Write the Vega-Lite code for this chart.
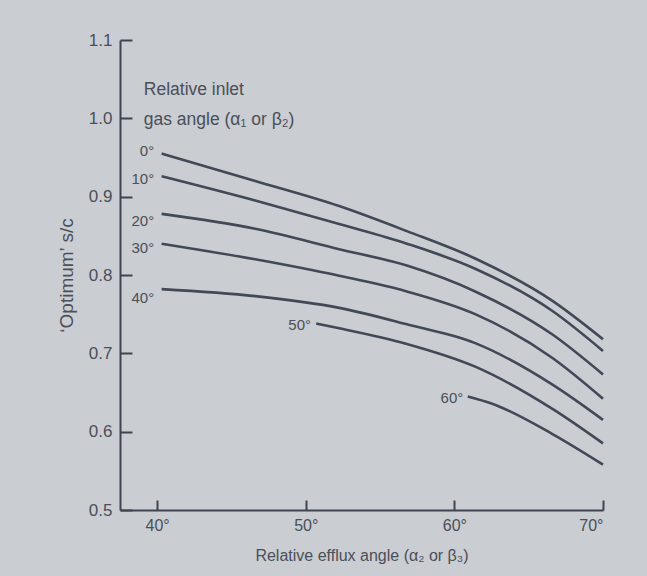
{
  "$schema": "https://vega.github.io/schema/vega-lite/v6.json",
  "width": 483,
  "height": 470,
  "autosize": {"type": "none"},
  "padding": {"left": 120, "top": 40, "right": 44, "bottom": 66},
  "background": "#cacdd2",
  "config": {
    "view": {"stroke": null},
    "font": "Liberation Sans",
    "axis": {"domainColor": "#3f4550", "tickColor": "#3f4550", "labelColor": "#4a4f58", "titleColor": "#4a4f58", "grid": false, "domainWidth": 2, "tickWidth": 2}
  },
  "datasets": {
    "curves": [
      {"inlet": "0", "efflux": 40.3, "sc": 0.955},
      {"inlet": "0", "efflux": 46.6, "sc": 0.92},
      {"inlet": "0", "efflux": 52.25, "sc": 0.888},
      {"inlet": "0", "efflux": 56.8, "sc": 0.856},
      {"inlet": "0", "efflux": 61.4, "sc": 0.821},
      {"inlet": "0", "efflux": 66.6, "sc": 0.767},
      {"inlet": "0", "efflux": 70.0, "sc": 0.718},
      {"inlet": "10", "efflux": 40.3, "sc": 0.926},
      {"inlet": "10", "efflux": 46.6, "sc": 0.895},
      {"inlet": "10", "efflux": 52.25, "sc": 0.865},
      {"inlet": "10", "efflux": 56.8, "sc": 0.84},
      {"inlet": "10", "efflux": 61.4, "sc": 0.808},
      {"inlet": "10", "efflux": 66.6, "sc": 0.754},
      {"inlet": "10", "efflux": 70.0, "sc": 0.703},
      {"inlet": "20", "efflux": 40.3, "sc": 0.878},
      {"inlet": "20", "efflux": 46.6, "sc": 0.859},
      {"inlet": "20", "efflux": 52.25, "sc": 0.833},
      {"inlet": "20", "efflux": 56.8, "sc": 0.812},
      {"inlet": "20", "efflux": 61.4, "sc": 0.779},
      {"inlet": "20", "efflux": 66.6, "sc": 0.724},
      {"inlet": "20", "efflux": 70.0, "sc": 0.673},
      {"inlet": "30", "efflux": 40.3, "sc": 0.84},
      {"inlet": "30", "efflux": 46.6, "sc": 0.82},
      {"inlet": "30", "efflux": 52.25, "sc": 0.799},
      {"inlet": "30", "efflux": 56.8, "sc": 0.779},
      {"inlet": "30", "efflux": 61.4, "sc": 0.75},
      {"inlet": "30", "efflux": 66.6, "sc": 0.694},
      {"inlet": "30", "efflux": 70.0, "sc": 0.642},
      {"inlet": "40", "efflux": 40.3, "sc": 0.782},
      {"inlet": "40", "efflux": 46.6, "sc": 0.773},
      {"inlet": "40", "efflux": 52.25, "sc": 0.758},
      {"inlet": "40", "efflux": 56.8, "sc": 0.737},
      {"inlet": "40", "efflux": 61.4, "sc": 0.713},
      {"inlet": "40", "efflux": 66.6, "sc": 0.66},
      {"inlet": "40", "efflux": 70.0, "sc": 0.615},
      {"inlet": "50", "efflux": 50.7, "sc": 0.738},
      {"inlet": "50", "efflux": 52.25, "sc": 0.732},
      {"inlet": "50", "efflux": 56.8, "sc": 0.712},
      {"inlet": "50", "efflux": 61.4, "sc": 0.683},
      {"inlet": "50", "efflux": 66.6, "sc": 0.629},
      {"inlet": "50", "efflux": 70.0, "sc": 0.585},
      {"inlet": "60", "efflux": 60.9, "sc": 0.645},
      {"inlet": "60", "efflux": 62.5, "sc": 0.636},
      {"inlet": "60", "efflux": 66.6, "sc": 0.597},
      {"inlet": "60", "efflux": 70.0, "sc": 0.558}
    ],
    "labels": [
      {"text": "0°", "efflux": 39.8, "sc": 0.958},
      {"text": "10°", "efflux": 39.8, "sc": 0.922},
      {"text": "20°", "efflux": 39.8, "sc": 0.869},
      {"text": "30°", "efflux": 39.8, "sc": 0.835},
      {"text": "40°", "efflux": 39.8, "sc": 0.771},
      {"text": "50°", "efflux": 50.35, "sc": 0.736},
      {"text": "60°", "efflux": 60.6, "sc": 0.643}
    ],
    "notes": [
      {"text": "Relative inlet", "efflux": 39.1, "sc": 1.036},
      {"text": "gas angle (α₁ or β₂)", "efflux": 39.1, "sc": 0.998}
    ]
  },
  "layer": [
    {
      "data": {"name": "curves"},
      "mark": {"type": "line", "interpolate": "monotone", "strokeWidth": 2.6, "color": "#414957"},
      "encoding": {
        "x": {
          "field": "efflux", "type": "quantitative",
          "scale": {"domain": [37.5, 70], "nice": false, "zero": false},
          "axis": {"values": [40, 50, 60, 70], "labelExpr": "datum.value + '°'", "tickSize": -10, "labelPadding": 17, "labelFontSize": 16, "title": "Relative efflux angle (α₂ or β₃)", "titleFontSize": 16, "titleFontWeight": "normal", "titlePadding": 14}
        },
        "y": {
          "field": "sc", "type": "quantitative",
          "scale": {"domain": [0.5, 1.1], "nice": false, "zero": false},
          "axis": {"values": [0.5, 0.6, 0.7, 0.8, 0.9, 1.0, 1.1], "format": ".1f", "tickSize": -12, "labelPadding": 20, "labelFontSize": 17, "title": "‘Optimum’ s/c", "titleFontSize": 19, "titleFontWeight": "normal", "titlePadding": 12}
        },
        "detail": {"field": "inlet"}
      }
    },
    {
      "data": {"name": "labels"},
      "mark": {"type": "text", "align": "right", "baseline": "middle", "fontSize": 15, "color": "#4a4f58"},
      "encoding": {
        "x": {"field": "efflux", "type": "quantitative"},
        "y": {"field": "sc", "type": "quantitative"},
        "text": {"field": "text"}
      }
    },
    {
      "data": {"name": "notes"},
      "mark": {"type": "text", "align": "left", "baseline": "middle", "fontSize": 17.5, "color": "#4a4f58"},
      "encoding": {
        "x": {"field": "efflux", "type": "quantitative"},
        "y": {"field": "sc", "type": "quantitative"},
        "text": {"field": "text"}
      }
    }
  ]
}
